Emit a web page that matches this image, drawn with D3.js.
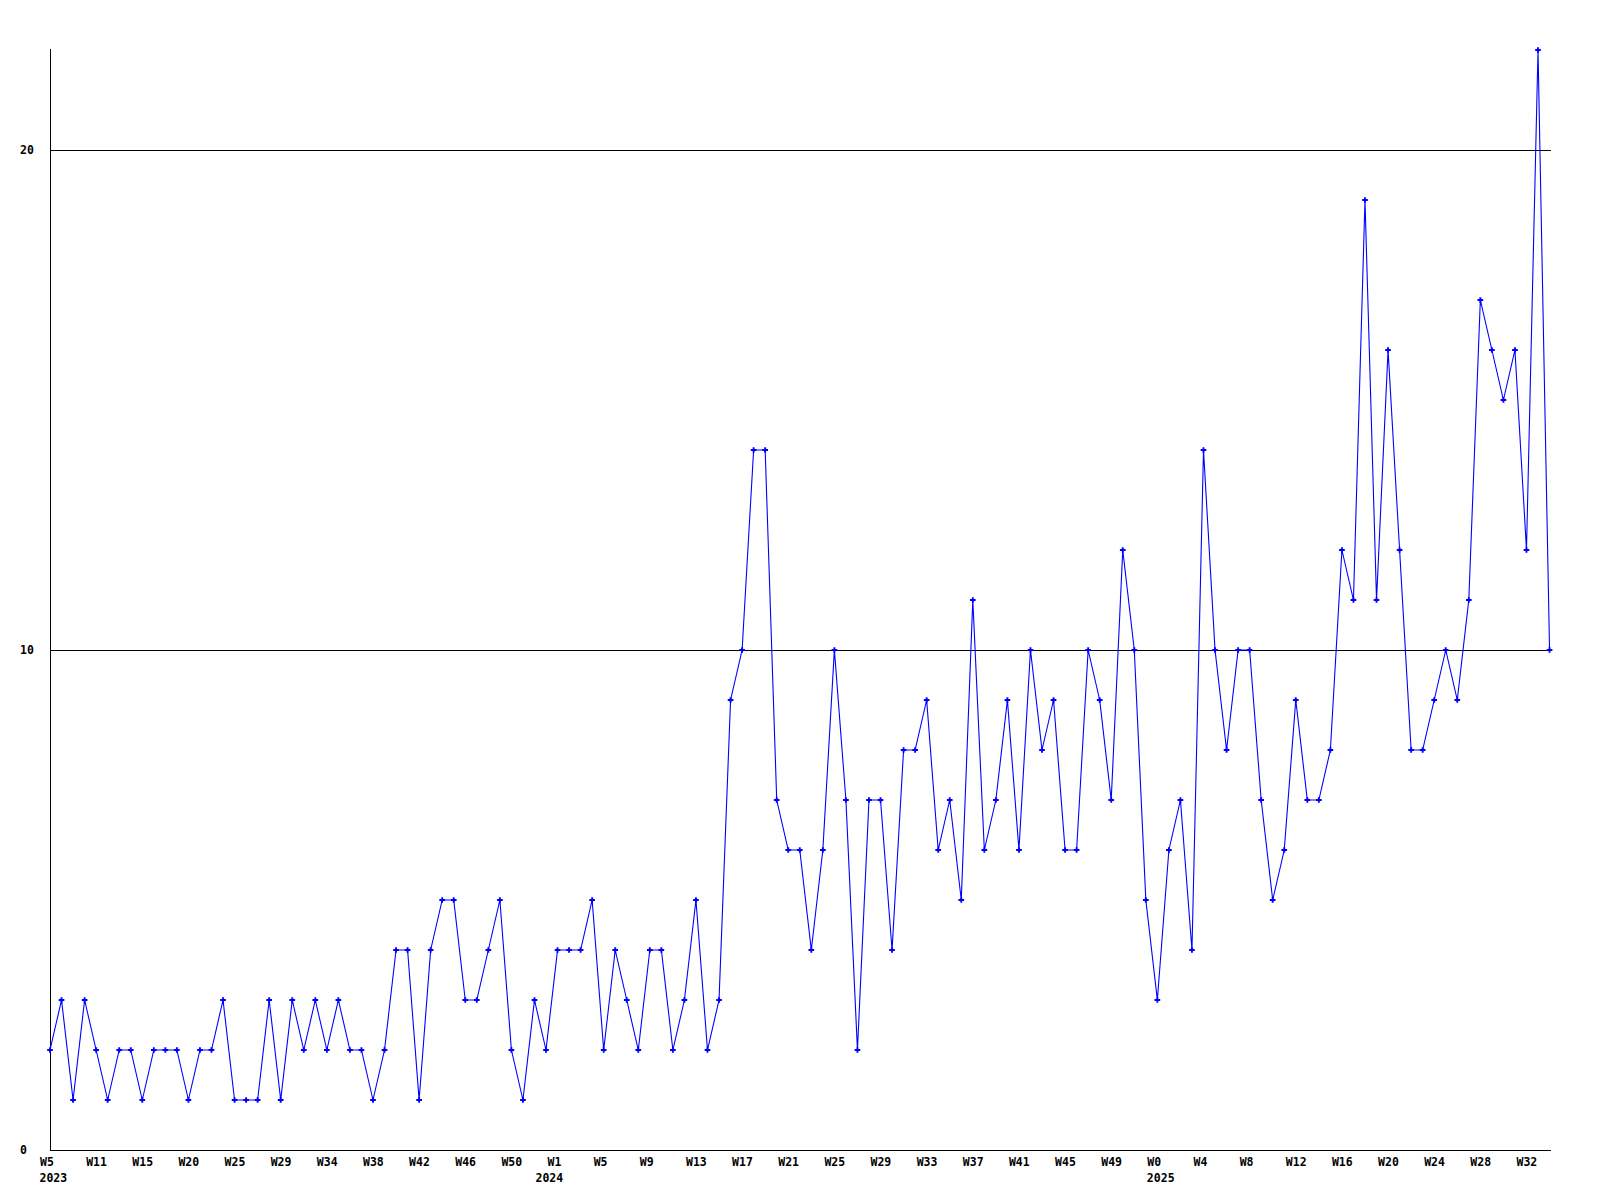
<!DOCTYPE html>
<html>
<head>
<meta charset="utf-8">
<script src="https://cdn.jsdelivr.net/npm/d3@7"></script>
<style>
  html, body { margin: 0; padding: 0; background: #fff; }
  svg text { font-family: "DejaVu Sans Mono", "Liberation Mono", monospace; font-weight: bold; font-size: 11.5px; fill: #000; }
</style>
</head>
<body>
<svg id="chart" width="1600" height="1200"></svg>
<script>
const values = [2,3,1,3,2,1,2,2,1,2,2,2,1,2,2,3,1,1,1,3,1,3,2,3,2,3,2,2,1,2,
  4,4,1,4,5,5,3,3,4,5,2,1,3,2,4,4,4,5,2,4,3,2,4,4,2,3,5,2,3,9,
  10,14,14,7,6,6,4,6,10,7,2,7,7,4,8,8,9,6,7,5,11,6,7,9,6,10,8,9,6,6,
  10,9,7,12,10,5,3,6,7,4,14,10,8,10,10,7,5,6,9,7,7,8,12,11,19,11,16,12,8,8,
  9,10,9,11,17,16,15,16,12,22,10];
const weekLabels = ["W5","W11","W15","W20","W25","W29","W34","W38","W42","W46","W50","W1","W5","W9","W13","W17","W21","W25","W29","W33","W37","W41","W45","W49","W0","W4","W8","W12","W16","W20","W24","W28","W32"];
const weekLabelStep = 4;
const yearLabels = ["2023","2024","2025"];
const yearIndex = [0,43,96];
const yTicks = [0,10,20];
const yMax = 22;

(function () {
const svg = d3.select("#chart");
const mLeft = 50, mBottom = 1150, mTop = 50, step = 11.535;
const n = values.length;
const x = d3.scaleLinear().domain([0, n - 1]).range([mLeft, mLeft + (n - 1) * step]);
const rightEdge = 1551;
const y = d3.scaleLinear().domain([0, yMax]).range([mBottom, mTop]);

// grid lines
svg.append("g").selectAll("line").data(yTicks.filter(d => d > 0)).join("line")
  .attr("x1", mLeft).attr("x2", rightEdge)
  .attr("y1", d => Math.round(y(d)) + 0.5).attr("y2", d => Math.round(y(d)) + 0.5)
  .attr("stroke", "#000").attr("stroke-width", 1);

// axes lines
svg.append("line").attr("x1", mLeft + 0.5).attr("x2", mLeft + 0.5).attr("y1", mTop - 1).attr("y2", mBottom + 0.5)
  .attr("stroke", "#000").attr("stroke-width", 1);
svg.append("line").attr("x1", mLeft).attr("x2", rightEdge).attr("y1", mBottom + 0.5).attr("y2", mBottom + 0.5)
  .attr("stroke", "#000").attr("stroke-width", 1);

// y labels
svg.append("g").selectAll("text").data(yTicks).join("text")
  .attr("x", 20).attr("y", d => y(d)).attr("dy", "0.36em")
  .text(d => d);

// x week labels via axis
const tickIdx = weekLabels.map((_, i) => i * weekLabelStep);
const xAxis = d3.axisBottom(x).tickValues(tickIdx).tickSize(0).tickPadding(0)
  .tickFormat((d, i) => weekLabels[i]);
const gx = svg.append("g").attr("transform", `translate(0,${mBottom})`).call(xAxis);
gx.select(".domain").remove();
gx.selectAll("text").attr("text-anchor", "start").attr("dx", -10.5).attr("y", 16).attr("dy", 0)
  .style("font-family", "DejaVu Sans Mono").style("font-weight", "bold").style("font-size", "11.5px").style("fill", "#000");

// year labels
svg.append("g").selectAll("text").data(yearLabels).join("text")
  .attr("x", (d, i) => x(yearIndex[i]) - 10.5).attr("y", mBottom + 32)
  .text(d => d);

// line
const line = d3.line().x((d, i) => x(i)).y(d => y(d));
svg.append("path").datum(values).attr("d", line)
  .attr("fill", "none").attr("stroke", "#0000ff").attr("stroke-width", 1.1);

// markers
const sym = d3.symbol().type(d3.symbolCross).size(18);
svg.append("g").selectAll("path").data(values).join("path")
  .attr("transform", (d, i) => `translate(${x(i)},${y(d)})`)
  .attr("d", sym).attr("fill", "#0000ff");
})();
</script>
</body>
</html>
